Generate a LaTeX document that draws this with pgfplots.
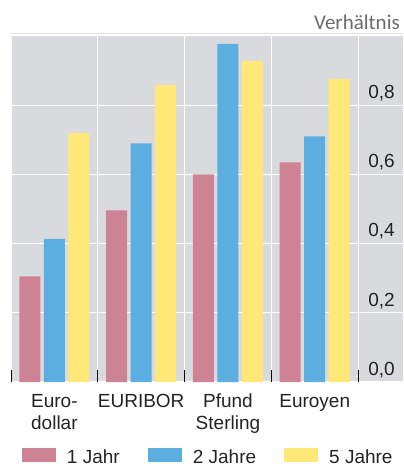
\documentclass[border=0pt]{standalone}
\usepackage{fontspec}
\setmainfont{Liberation Sans}
\newfontfamily\calibri{Carlito}
\usepackage{pgfplots}
\pgfplotsset{compat=1.18}
\definecolor{cpink}{RGB}{205,130,150}
\definecolor{cblue}{RGB}{92,173,224}
\definecolor{cyellow}{RGB}{255,232,120}
\definecolor{cbg}{RGB}{217,218,221}
\definecolor{ctop}{RGB}{225,225,225}
\definecolor{ctext}{RGB}{35,35,35}
\begin{document}
\begin{tikzpicture}
\begin{axis}[
  scale only axis,
  width=392pt, height=346pt,
  xmin=-0.5, xmax=4.017,
  ymin=0, ymax=1.0,
  axis line style={draw=none},
  axis background/.style={fill=cbg},
  ybar=3.5pt, bar width=21pt,
  /pgf/number format/assume math mode=true,
  xtick={-0.5,0.5,1.5,2.5,3.5},
  xticklabels={},
  xtick pos=bottom,
  xtick align=inside,
  major tick length=12pt,
  x tick style={black, line width=0.9pt},
  xmajorgrids,
  major x grid style={white, line width=1.2pt},
  extra x ticks={0,1,2,3},
  extra x tick labels={{Euro-\\dollar},EURIBOR,{Pfund\\Sterling},Euroyen},
  extra x tick style={grid=none, major tick length=0pt, tick style={draw=none}},
  xticklabel style={align=center, inner sep=0pt, anchor=north, yshift=-12pt, text=ctext, font=\fontsize{19}{22}\selectfont},
  ytick={0,0.2,0.4,0.6,0.8},
  ytick pos=left,
  yticklabel pos=right,
  y tick style={draw=none},
  ymajorgrids,
  major y grid style={white, line width=1.2pt},
  yticklabel={\pgfmathprintnumber[fixed, fixed zerofill, precision=1, use comma]{\tick}},
  yticklabel style={anchor=south east, inner sep=0pt, xshift=-8pt, yshift=4pt, text=ctext, font=\fontsize{19}{22}\selectfont},
  extra y ticks={0.2,0.4,0.6,0.8},
  extra y tick labels={},
  extra y tick style={grid=none, major tick length=3pt, tick style={draw=black, line width=0.8pt}},
  legend columns=3,
  legend style={at={(rel axis cs:0,0)}, anchor=north west, xshift=11pt, yshift=-66pt,
    draw=none, fill=none, inner sep=0pt, outer sep=0pt,
    nodes={inner sep=0pt, text=ctext, font=\fontsize{19}{22}\selectfont},
    /tikz/every odd column/.append style={column sep=11pt},
    /tikz/every even column/.append style={column sep=28pt}},
]
\addplot[fill=cpink, draw=none, legend image code/.code={\fill[cpink] (0pt,-5pt) rectangle (34pt,9pt);}]
  coordinates {(0,0.305) (1,0.496) (2,0.600) (3,0.635)};
\addplot[fill=cblue, draw=none, legend image code/.code={\fill[cblue] (0pt,-5pt) rectangle (34pt,9pt);}]
  coordinates {(0,0.414) (1,0.690) (2,0.977) (3,0.710)};
\addplot[fill=cyellow, draw=none, legend image code/.code={\fill[cyellow] (0pt,-5pt) rectangle (34pt,9pt);}]
  coordinates {(0,0.719) (1,0.858) (2,0.928) (3,0.875)};
\legend{1 Jahr, 2 Jahre, 5 Jahre}
\end{axis}
\draw[ctop, line width=1pt] ([yshift=2pt]current axis.north west) -- ([yshift=2pt]current axis.north east);
\node[anchor=base east, inner sep=0pt, text=black!58, font=\calibri\fontsize{21}{24}\selectfont]
  at ([xshift=-3pt, yshift=6pt]current axis.north east) {Verhältnis};
\path[use as bounding box] ([xshift=-11pt, yshift=-84pt]current axis.south west) rectangle ([yshift=36pt]current axis.north east);
\end{tikzpicture}
\end{document}
